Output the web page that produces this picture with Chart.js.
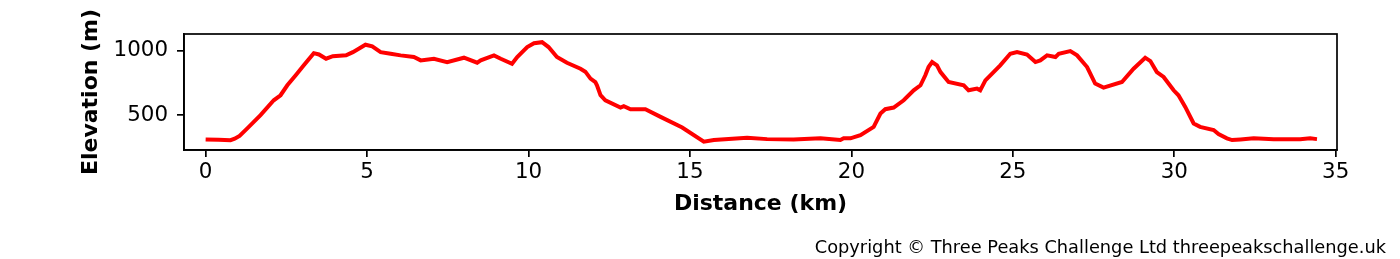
<!DOCTYPE html>
<html lang="en">
<head>
    <meta charset="UTF-8">
    <title>Elevation profile</title>
    <script src="https://cdn.jsdelivr.net/npm/chart.js"></script>
    <style>
        body { margin: 0; background: #fff; }
        #wrap { position: relative; width: 1400px; height: 259px; }
    </style>
</head>
<body>
    <div id="wrap">
        <canvas id="profileChart"></canvas>
    </div>
    <script>
        // distance along the route (km) and elevation (m)
        const distanceKm = [0, 0.4, 0.77, 0.9, 1.05, 1.29, 1.7, 2.11, 2.32, 2.53, 2.79, 3.04, 3.35, 3.51, 3.73, 3.94, 4.35, 4.56, 4.95, 5.16, 5.42,
            5.73, 6.04, 6.45, 6.66, 7.07, 7.48, 8.0, 8.41, 8.52, 8.93, 9.14, 9.49, 9.65, 9.96, 10.17, 10.42, 10.62, 10.88, 11.19, 11.61,
            11.76, 11.92, 12.07, 12.12, 12.23, 12.38, 12.85, 12.95, 13.16, 13.62, 14.09, 14.76, 15.43, 15.74, 16.77, 17.39, 18.21, 19.04, 19.66, 19.76,
            19.97, 20.28, 20.69, 20.9, 21.05, 21.31, 21.62, 21.93, 22.14, 22.29, 22.39, 22.5, 22.65, 22.76, 23.01, 23.48, 23.63, 23.89, 23.99, 24.15,
            24.61, 24.92, 25.13, 25.44, 25.7, 25.85, 26.06, 26.32, 26.42, 26.78, 26.99, 27.3, 27.55, 27.81, 28.38, 28.74, 29.1, 29.26, 29.46, 29.67,
            29.98, 30.13, 30.34, 30.6, 30.8, 31.22, 31.37, 31.63, 31.79, 32.05, 32.46, 33.08, 33.9, 34.21, 34.42];
        const elevationM = [313, 310, 307, 318, 340, 398, 500, 615, 654, 731, 808, 885, 979, 969, 936, 956, 962, 987, 1044, 1031, 987,
            974, 962, 949, 923, 936, 910, 944, 905, 923, 962, 936, 897, 949, 1026, 1056, 1064, 1026, 949, 905, 859,
            836, 782, 756, 731, 654, 615, 559, 570, 546, 546, 487, 405, 295, 308, 326, 315, 313, 321, 308, 321,
            321, 346, 410, 513, 546, 559, 615, 692, 731, 808, 872, 910, 885, 833, 756, 731, 692, 705, 692, 769,
            885, 974, 987, 969, 910, 923, 962, 949, 974, 995, 962, 872, 744, 713, 756, 859, 944, 918, 833, 795,
            692, 654, 564, 436, 410, 385, 354, 321, 308, 313, 321, 315, 315, 321, 315];
        const xTicks = [0, 5, 10, 15, 20, 25, 30, 35];
        const yTicks = [500, 1000];

        const points = distanceKm.map((d, i) => ({ x: d, y: elevationM[i] }));

        // box round the plot area and the copyright line
        const framePlugin = {
            id: 'frame',
            afterDraw(chart) {
                const { ctx, chartArea: a } = chart;
                ctx.save();
                ctx.strokeStyle = '#000';
                ctx.lineWidth = 1.7;
                ctx.strokeRect(a.left, a.top, a.right - a.left, a.bottom - a.top);
                ctx.fillStyle = '#000';
                ctx.font = '17.8px "DejaVu Sans"';
                ctx.textAlign = 'right';
                ctx.textBaseline = 'middle';
                ctx.fillText('Copyright \u00a9 Three Peaks Challenge Ltd threepeakschallenge.uk', 1386, 248);
                ctx.restore();
            }
        };

        const tickFont = { family: 'DejaVu Sans', size: 21.4 };
        const titleFont = { family: 'DejaVu Sans', size: 22, weight: 'bold' };

        new Chart(document.getElementById('profileChart'), {
            type: 'line',
            data: {
                datasets: [{
                    data: points,
                    borderColor: '#ff0000',
                    borderWidth: 4,
                    pointRadius: 0,
                    tension: 0,
                    fill: false
                }]
            },
            options: {
                responsive: true,
                maintainAspectRatio: false,
                animation: false,
                layout: { padding: { left: 70, right: 63, top: 34, bottom: 0 } },
                plugins: { legend: { display: false }, tooltip: { enabled: false } },
                scales: {
                    x: {
                        type: 'linear',
                        min: -0.67,
                        max: 35.04,
                        afterBuildTicks: s => { s.ticks = xTicks.map(v => ({ value: v })); },
                        afterFit: s => { s.height = 109; },
                        ticks: { color: '#000', font: tickFont, padding: 3, maxRotation: 0, callback: v => String(v) },
                        grid: { drawOnChartArea: false, tickLength: 7, color: '#000', lineWidth: 1.7 },
                        border: { color: '#000', width: 1.7 },
                        title: { display: true, text: 'Distance (km)', color: '#000', font: titleFont, padding: { top: 0, bottom: 42 } }
                    },
                    y: {
                        min: 231,
                        max: 1127,
                        afterBuildTicks: s => { s.ticks = yTicks.map(v => ({ value: v })); },
                        afterFit: s => { s.width = 114; },
                        ticks: { color: '#000', font: tickFont, padding: 9, callback: v => String(v) },
                        grid: { drawOnChartArea: false, tickLength: 7, color: '#000', lineWidth: 1.7 },
                        border: { color: '#000', width: 1.7 },
                        title: { display: true, text: 'Elevation (m)', color: '#000', font: titleFont, padding: { top: 8, bottom: 0 } }
                    }
                }
            },
            plugins: [framePlugin]
        });
    </script>
</body>
</html>
